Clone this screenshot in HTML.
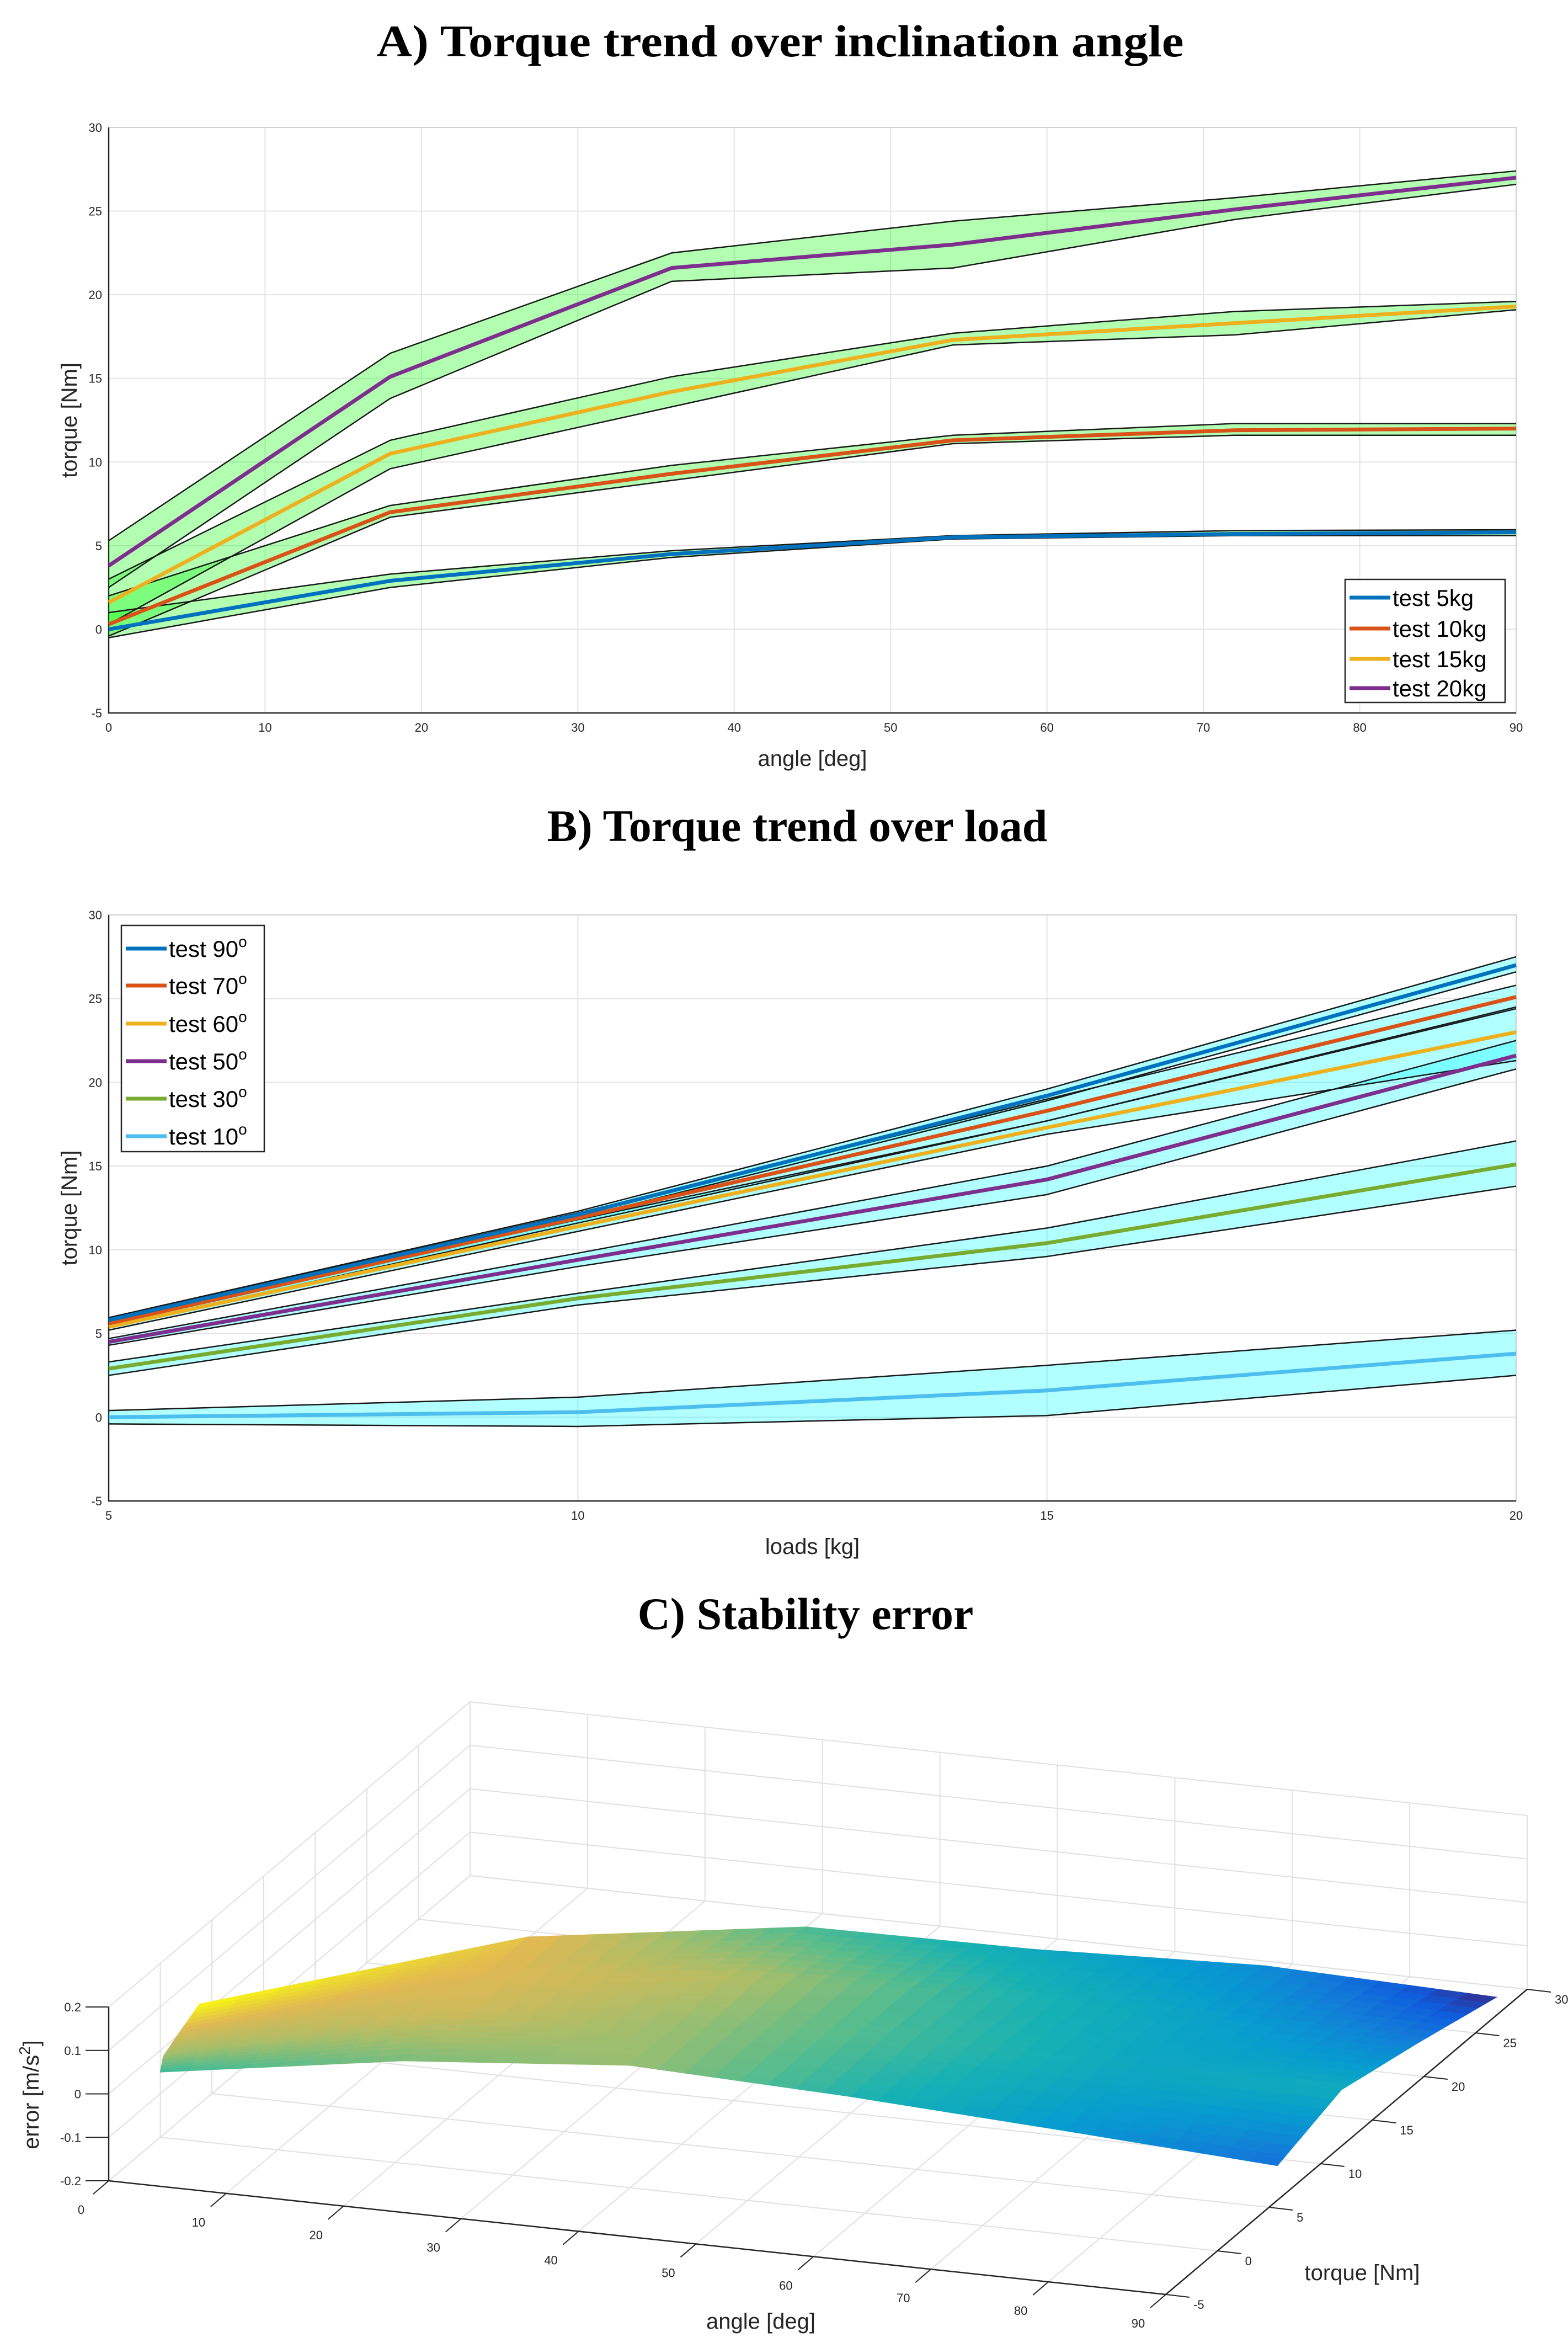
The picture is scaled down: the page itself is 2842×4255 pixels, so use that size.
<!DOCTYPE html>
<html><head><meta charset="utf-8"><title>Torque charts</title>
<style>
html,body{margin:0;padding:0;background:#fff;}
svg{display:block;}
.tk{font-family:"Liberation Sans",sans-serif;font-size:22px;fill:#262626;}
.al{font-family:"Liberation Sans",sans-serif;font-size:40px;fill:#262626;}
.ttl{font-family:"Liberation Serif",serif;font-weight:bold;font-size:82px;fill:#000;}
.lg{font-family:"Liberation Sans",sans-serif;font-size:42px;fill:#000;}
</style></head>
<body>
<svg id="root" xmlns="http://www.w3.org/2000/svg" width="2842" height="4255" viewBox="0 0 2842 4255">
<rect x="0" y="0" width="2842" height="4255" fill="#fff"/>
<text class="ttl" x="1414" y="102" text-anchor="middle" textLength="1463" lengthAdjust="spacingAndGlyphs">A) Torque trend over inclination angle</text>
<text class="ttl" x="1445" y="1524" text-anchor="middle">B) Torque trend over load</text>
<text class="ttl" x="1460" y="2952" text-anchor="middle">C) Stability error</text>
<g id="chartA"></g>
<g id="chartB"></g>
<g id="chartC"></g>
</svg>
<script>
// ---------- Chart A data ----------
const aAngles=[0,18,36,54,72,90];
const aMean5=[0,2.9,4.5,5.5,5.7,5.8];
const aUp5=[1.0,3.3,4.7,5.6,5.9,5.95];
const aLo5=[-0.5,2.5,4.3,5.4,5.6,5.6];
const aMean10=[0.3,7.0,9.3,11.3,11.9,12.0];
const aUp10=[2.0,7.4,9.8,11.6,12.3,12.3];
const aLo10=[-0.4,6.7,8.9,11.1,11.6,11.6];
const aMean15=[1.6,10.5,14.2,17.3,18.3,19.3];
const aUp15=[3.0,11.3,15.1,17.7,19.0,19.6];
const aLo15=[0.3,9.6,13.3,17.0,17.6,19.1];
const aMean20=[3.8,15.1,21.6,23.0,25.1,27.0];
const aUp20=[5.3,16.5,22.5,24.4,25.8,27.4];
const aLo20=[2.5,13.8,20.8,21.6,24.5,26.6];
const aXTicks=[0,10,20,30,40,50,60,70,80,90];
const yTicks=[-5,0,5,10,15,20,25,30];
// ---------- Chart B data ----------
const bLoads=[5,10,15,20];
const bMean90=[5.8,12.1,19.2,27.0];
const bUp90=[5.95,12.3,19.6,27.5];
const bLo90=[5.6,11.9,18.9,26.6];
const bMean70=[5.6,11.9,18.3,25.1];
const bUp70=[5.9,12.2,19.0,25.8];
const bLo70=[5.4,11.6,17.7,24.4];
const bMean60=[5.4,11.4,17.3,23.0];
const bUp60=[5.7,11.8,17.7,24.5];
const bLo60=[5.2,11.1,16.9,21.3];
const bMean50=[4.5,9.4,14.2,21.6];
const bUp50=[4.7,9.8,15.0,22.5];
const bLo50=[4.3,9.0,13.3,20.8];
const bMean30=[2.9,7.1,10.4,15.1];
const bUp30=[3.3,7.4,11.3,16.5];
const bLo30=[2.5,6.7,9.6,13.8];
const bMean10=[0.0,0.3,1.6,3.8];
const bUp10=[0.4,1.2,3.1,5.2];
const bLo10=[-0.4,-0.55,0.1,2.5];
const bXTicks=[5,10,15,20];
// ---------- Chart C data ----------
const cAngles=[0,18,36,54,72,90];
const cErr0=[-0.05,-0.02,0.0,0.03];
const cErr18=[-0.03,0.0,0.005,0.01];
const cErr36=[-0.02,-0.02,-0.01,-0.045];
const cErr54=[-0.06,-0.05,-0.055,-0.072];
const cErr72=[-0.09,-0.075,-0.08,-0.1];
const cErr90=[-0.12,-0.07,-0.11,-0.158];
const cATicks=[0,10,20,30,40,50,60,70,80,90];
const cTTicks=[-5,0,5,10,15,20,25,30];
const cZTicks=[-0.2,-0.1,0,0.1,0.2];

const NS='http://www.w3.org/2000/svg';
function mk(parent,tag,attrs,text){
  const e=document.createElementNS(NS,tag);
  for(const k in attrs)e.setAttribute(k,attrs[k]);
  if(text!==undefined)e.textContent=text;
  parent.appendChild(e);return e;
}

function drawLineChart(g,cfg){
  const {x0,x1,y0,y1,xmin,xmax,xs,xTicks,series,fill,xlabel,prefix}=cfg;
  const X=v=>x0+(v-xmin)/(xmax-xmin)*(x1-x0);
  const Y=v=>y1-(v+5)/35*(y1-y0);
  xTicks.forEach(t=>{
    const l=mk(g,'line',{x1:X(t),x2:X(t),y1:y0,y2:y1,stroke:'#e3e3e3','stroke-width':2});
    
    
    const tx=mk(g,'text',{x:X(t),y:y1+34,'text-anchor':'middle',class:'tk'},String(t));
    
    
  });
  yTicks.forEach(t=>{
    const l=mk(g,'line',{x1:x0,x2:x1,y1:Y(t),y2:Y(t),stroke:'#e3e3e3','stroke-width':2});
    
    
    const tx=mk(g,'text',{x:x0-12,y:Y(t)+8,'text-anchor':'end',class:'tk'},String(t));
    
    
  });
  const box=mk(g,'rect',{x:x0,y:y0,width:x1-x0,height:y1-y0,fill:'none',stroke:'#d0d0d0','stroke-width':2});
  
  
  const ax=mk(g,'path',{d:`M${x0},${y0}V${y1}H${x1}`,fill:'none',stroke:'#262626','stroke-width':2.5});
  
  
  series.forEach(s=>{
    let d='M'+xs.map((v,i)=>X(v)+','+Y(s.up[i])).join('L');
    for(let i=xs.length-1;i>=0;i--)d+='L'+X(xs[i])+','+Y(s.lo[i]);
    const p=mk(g,'path',{d:d+'Z',fill:fill,'fill-opacity':0.3,stroke:'none'});
    
    
  });
  series.forEach(s=>{
    ['up','lo'].forEach(k=>{
      const p=mk(g,'polyline',{points:xs.map((v,i)=>X(v)+','+Y(s[k][i])).join(' '),fill:'none',stroke:'#1a1a1a','stroke-width':2.5});
      
      
    });
  });
  series.forEach(s=>{
    const p=mk(g,'polyline',{points:xs.map((v,i)=>X(v)+','+Y(s.mean[i])).join(' '),fill:'none',stroke:s.color,'stroke-width':7,'stroke-linejoin':'round'});
    
    
  });
  const xl=mk(g,'text',{x:(x0+x1)/2,y:y1+96,'text-anchor':'middle',class:'al'},xlabel);
  
  
  const yl=mk(g,'text',{x:0,y:0,'text-anchor':'middle',class:'al',transform:`translate(${x0-58},${(y0+y1)/2}) rotate(-90)`},'torque [Nm]');
  
  
}

function drawLegend(g,cfg){
  const {x,y,w,h,items,ys,prefix,sup}=cfg;
  const r=mk(g,'rect',{x:x,y:y,width:w,height:h,fill:'#fff',stroke:'#262626','stroke-width':2.5});
  
  
  items.forEach((it,i)=>{
    const l=mk(g,'line',{x1:x+8,x2:x+82,y1:ys[i],y2:ys[i],stroke:it.color,'stroke-width':7});
    
    
    const t=mk(g,'text',{x:x+86,y:ys[i]+15,class:'lg'},it.label);
    
    
    if(sup){mk(t,'tspan',{dy:-18,'font-size':28},'o');}
  });
}

const gA=document.getElementById('chartA');
drawLineChart(gA,{x0:197,x1:2748,y0:231,y1:1292,xmin:0,xmax:90,xs:aAngles,xTicks:aXTicks,fill:'#00ff00',xlabel:'angle [deg]',prefix:'a-',
 series:[
  {key:'5kg',mean:aMean5,up:aUp5,lo:aLo5,color:'#0072bd'},
  {key:'10kg',mean:aMean10,up:aUp10,lo:aLo10,color:'#d95319'},
  {key:'15kg',mean:aMean15,up:aUp15,lo:aLo15,color:'#edb120'},
  {key:'20kg',mean:aMean20,up:aUp20,lo:aLo20,color:'#7e2f8e'}]});
drawLegend(gA,{x:2438,y:1050,w:290,h:223,prefix:'a-',sup:false,ys:[1083,1139,1194,1247],
 items:[{label:'test 5kg',color:'#0072bd'},{label:'test 10kg',color:'#d95319'},{label:'test 15kg',color:'#edb120'},{label:'test 20kg',color:'#7e2f8e'}]});

const gB=document.getElementById('chartB');
drawLineChart(gB,{x0:197,x1:2748,y0:1658,y1:2720,xmin:5,xmax:20,xs:bLoads,xTicks:bXTicks,fill:'#00ffff',xlabel:'loads [kg]',prefix:'b-',
 series:[
  {key:'10deg',mean:bMean10,up:bUp10,lo:bLo10,color:'#4dbeee'},
  {key:'30deg',mean:bMean30,up:bUp30,lo:bLo30,color:'#77ac30'},
  {key:'50deg',mean:bMean50,up:bUp50,lo:bLo50,color:'#7e2f8e'},
  {key:'60deg',mean:bMean60,up:bUp60,lo:bLo60,color:'#edb120'},
  {key:'70deg',mean:bMean70,up:bUp70,lo:bLo70,color:'#d95319'},
  {key:'90deg',mean:bMean90,up:bUp90,lo:bLo90,color:'#0072bd'}]});
drawLegend(gB,{x:220,y:1677,w:259,h:410,prefix:'b-',sup:true,ys:[1719,1786,1855,1923,1991,2059],
 items:[{label:'test 90',color:'#0072bd'},{label:'test 70',color:'#d95319'},{label:'test 60',color:'#edb120'},{label:'test 50',color:'#7e2f8e'},{label:'test 30',color:'#77ac30'},{label:'test 10',color:'#4dbeee'}]});

// ---------- Chart C ----------
const gC=document.getElementById('chartC');
const OX=197,OY=3952;
function P(a,t,z){
  return [OX+a/90*1916+(t+5)/35*655, OY+a/90*206-(t+5)/35*553-(z+0.2)/0.4*315];
}
function seg(g,p,q,color,w,name){
  const l=mk(g,'line',{x1:p[0],y1:p[1],x2:q[0],y2:q[1],stroke:color,'stroke-width':w});
  
  
}
const gridC='#e0e0e0';
cATicks.forEach(a=>{
  seg(gC,P(a,30,-0.2),P(a,30,0.2),gridC,2,'c-back-grid-line');
  seg(gC,P(a,-5,-0.2),P(a,30,-0.2),gridC,2,'c-floor-grid-line');
});
cTTicks.forEach(t=>{
  seg(gC,P(0,t,-0.2),P(0,t,0.2),gridC,2,'c-side-grid-line');
  seg(gC,P(0,t,-0.2),P(90,t,-0.2),gridC,2,'c-floor-grid-line');
});
cZTicks.forEach(z=>{
  seg(gC,P(0,30,z),P(90,30,z),gridC,2,'c-back-grid-line');
  seg(gC,P(0,-5,z),P(0,30,z),gridC,2,'c-side-grid-line');
});
const cErr=[cErr0,cErr18,cErr36,cErr54,cErr72,cErr90];
const cTor=aAngles.map((_,i)=>[aMean5[i],aMean10[i],aMean15[i],aMean20[i]]);
const PAR=[[53,42,135],[15,92,221],[18,125,216],[7,156,207],[21,177,180],[89,189,140],[165,190,107],[225,185,82],[249,251,14]];
function parula(u){
  u=Math.max(0,Math.min(1,u))*(PAR.length-1);
  const i=Math.min(PAR.length-2,Math.floor(u)),f=u-i;
  const c=PAR[i].map((v,k)=>Math.round(v+(PAR[i+1][k]-v)*f));
  return `rgb(${c[0]},${c[1]},${c[2]})`;
}
let zmin=Infinity,zmax=-Infinity;
cErr.forEach(r=>r.forEach(v=>{zmin=Math.min(zmin,v);zmax=Math.max(zmax,v);}));
const gS=mk(gC,'g',{});


const N=8;
function bil(M,i,j,u,v){return M[i][j]*(1-u)*(1-v)+M[i+1][j]*u*(1-v)+M[i][j+1]*(1-u)*v+M[i+1][j+1]*u*v;}
for(let j=bLoads.length-2;j>=0;j--){
  for(let i=0;i<cAngles.length-1;i++){
    for(let sv=N-1;sv>=0;sv--){
      for(let su=0;su<N;su++){
        const pts=[[su,sv],[su+1,sv],[su+1,sv+1],[su,sv+1]].map(([a,b])=>{
          const u=a/N,v=b/N;
          const ang=cAngles[i]+(cAngles[i+1]-cAngles[i])*u;
          return P(ang,bil(cTor,i,j,u,v),bil(cErr,i,j,u,v));
        });
        const zc=bil(cErr,i,j,(su+0.5)/N,(sv+0.5)/N);
        const col=parula((zc-zmin)/(zmax-zmin));
        const p=mk(gS,'polygon',{points:pts.map(q=>q[0].toFixed(1)+','+q[1].toFixed(1)).join(' '),fill:col,stroke:col,'stroke-width':1.5});
        
        
      }
    }
  }
}
const axC='#262626';
seg(gC,P(0,-5,-0.2),P(0,-5,0.2),axC,2.5,'c-z-axis');
seg(gC,P(0,-5,-0.2),P(90,-5,-0.2),axC,2.5,'c-angle-axis');
seg(gC,P(90,-5,-0.2),P(90,30,-0.2),axC,2.5,'c-torque-axis');
cZTicks.forEach(z=>{
  const p=P(0,-5,z);
  seg(gC,[p[0]-42,p[1]],p,axC,2,'c-z-tick');
  const t=mk(gC,'text',{x:p[0]-50,y:p[1]+8,'text-anchor':'end',class:'tk'},String(z));
  
  
});
cATicks.forEach(a=>{
  const p=P(a,-5,-0.2);
  seg(gC,p,[p[0]-28,p[1]+24],axC,2,'c-angle-tick');
  const t=mk(gC,'text',{x:p[0]-50,y:p[1]+60,'text-anchor':'middle',class:'tk'},String(a));
  
  
});
cTTicks.forEach(tv=>{
  const p=P(90,tv,-0.2);
  seg(gC,p,[p[0]+43,p[1]+5],axC,2,'c-torque-tick');
  const t=mk(gC,'text',{x:p[0]+50,y:p[1]+26,'text-anchor':'start',class:'tk'},String(tv));
  
  
});
const cz=mk(gC,'text',{x:0,y:0,'text-anchor':'middle',class:'al',transform:'translate(70,3796) rotate(-90)'});


cz.appendChild(document.createTextNode('error [m/s'));
mk(cz,'tspan',{dy:-16,'font-size':28},'2');
mk(cz,'tspan',{dy:16},']');
const ca=mk(gC,'text',{x:1379,y:4220,'text-anchor':'middle',class:'al'},'angle [deg]');


const ct=mk(gC,'text',{x:2469,y:4132,'text-anchor':'middle',class:'al'},'torque [Nm]');


</script>
</body></html>
